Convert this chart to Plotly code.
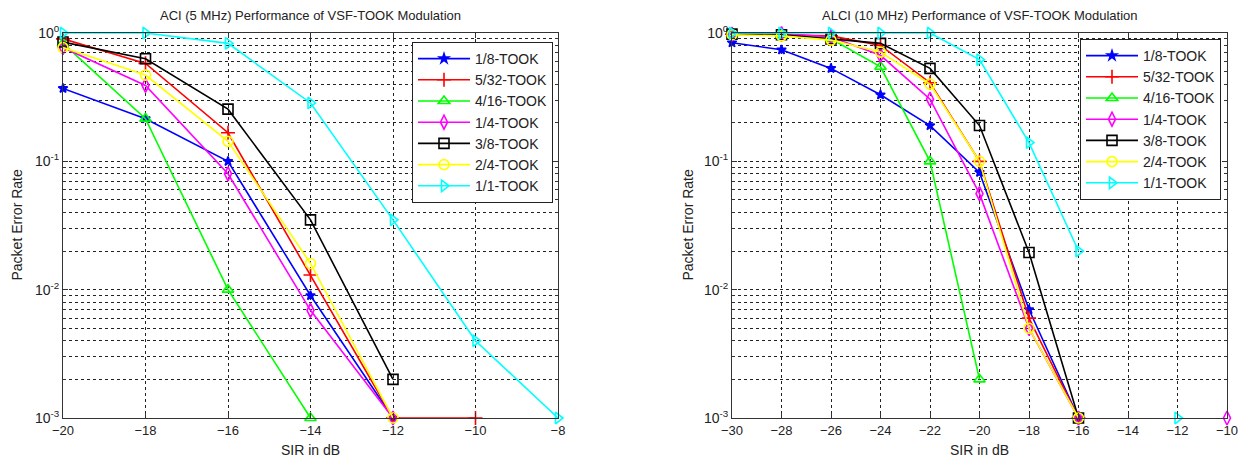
import plotly.graph_objects as go

# ---------------- data ----------------
series_names = ["1/8-TOOK", "5/32-TOOK", "4/16-TOOK", "1/4-TOOK", "3/8-TOOK", "2/4-TOOK", "1/1-TOOK"]
colors = ["#0000FF", "#FF0000", "#00FF00", "#FF00FF", "#000000", "#FFFF00", "#00FFFF"]
symbols = ["star", "cross-thin-open", "triangle-up-open", "diamond-tall-open", "square-open", "circle-open", "triangle-right-open"]
marker_sizes = [7, 10, 10, 10, 10, 10, 10]

# Left: ACI (5 MHz)
sir_aci = [-20, -18, -16, -14, -12, -10, -8]
aci_1_8 = [0.37, 0.215, 0.1, 0.009, 0.001, None, None]
aci_5_32 = [0.9, 0.58, 0.167, 0.013, 0.001, 0.001, None]
aci_4_16 = [0.83, 0.215, 0.01, 0.001, None, None, None]
aci_1_4 = [0.77, 0.39, 0.08, 0.0069, 0.001, None, None]
aci_3_8 = [0.85, 0.63, 0.255, 0.035, 0.002, None, None]
aci_2_4 = [0.77, 0.47, 0.143, 0.016, 0.001, None, None]
aci_1_1 = [1.0, 1.0, 0.83, 0.285, 0.035, 0.004, 0.001]

# Right: ALCI (10 MHz)
sir_alci = [-30, -28, -26, -24, -22, -20, -18, -16, -14, -12, -10]
alci_1_8 = [0.84, 0.74, 0.53, 0.33, 0.19, 0.082, 0.007, 0.001, None, None, None]
alci_5_32 = [0.98, 0.97, 0.95, 0.8, 0.41, 0.1, 0.006, 0.001, None, None, None]
alci_4_16 = [0.98, 0.97, 0.9, 0.545, 0.1, 0.002, None, None, None, None, None]
alci_1_4 = [0.98, 0.99, 0.93, 0.67, 0.305, 0.056, 0.005, 0.001, None, None, 0.001]
alci_3_8 = [0.98, 0.97, 0.9, 0.83, 0.53, 0.19, 0.0195, 0.001, None, None, None]
alci_2_4 = [0.97, 0.95, 0.88, 0.71, 0.4, 0.1, 0.005, 0.001, None, None, None]
alci_1_1 = [1.0, 1.0, 1.0, 1.0, 1.0, 0.62, 0.14, 0.02, None, 0.001, None]

y_major = [1, 0.1, 0.01, 0.001]
y_major_text = ["10<sup>0</sup>", "10<sup>-1</sup>", "10<sup>-2</sup>", "10<sup>-3</sup>"]
y_minor = [m * 10 ** e for e in (-3, -2, -1) for m in range(2, 10)]

titles = ["ACI (5 MHz) Performance of VSF-TOOK Modulation",
          "ALCI (10 MHz) Performance of VSF-TOOK Modulation"]
x_label = "SIR in dB"
y_label = "Packet Error Rate"

FONT = "Liberation Sans, Arial, sans-serif"
W, H = 1239, 460

fig = go.Figure()

aci_sets = [aci_1_8, aci_5_32, aci_4_16, aci_1_4, aci_3_8, aci_2_4, aci_1_1]
alci_sets = [alci_1_8, alci_5_32, alci_4_16, alci_1_4, alci_3_8, alci_2_4, alci_1_1]

for (xs, sets, xa, ya, lg) in ((sir_aci, aci_sets, "x", "y", "legend"),
                               (sir_alci, alci_sets, "x2", "y2", "legend2")):
    for name, col, sym, ms, ys in zip(series_names, colors, symbols, marker_sizes, sets):
        fig.add_trace(go.Scatter(
            x=xs, y=ys, name=name, mode="lines+markers",
            line=dict(color=col, width=1.6),
            marker=dict(symbol=sym, size=ms, color=col,
                        line=dict(color=col, width=1.6)),
            xaxis=xa, yaxis=ya, legend=lg, cliponaxis=False, connectgaps=False))

y0, y1 = 1 - 418 / H, 1 - 33 / H
dom_left = [63 / W, 558 / W]
dom_right = [732 / W, 1227 / W]

common_x = dict(
    showgrid=True, gridcolor="#222", griddash="3px,3px", gridwidth=1,
    showline=True, linecolor="#333", linewidth=1, mirror="ticks",
    ticks="inside", ticklen=5, tickcolor="#333", dtick=2, tick0=0,
    tickfont=dict(family=FONT, size=13, color="#222"), zeroline=False,
    automargin=False, fixedrange=True,
)
common_y = dict(
    type="log", range=[-3, 0], tickmode="array", tickvals=y_major, ticktext=y_major_text,
    showgrid=True, gridcolor="#222", griddash="3px,3px", gridwidth=1,
    showline=True, linecolor="#333", linewidth=1, mirror="ticks",
    ticks="inside", ticklen=5, tickcolor="#333",
    minor=dict(tickmode="array", tickvals=y_minor, showgrid=True, gridcolor="#222",
               griddash="3px,3px", gridwidth=1, ticks="inside", ticklen=3, tickcolor="#333"),
    tickfont=dict(family=FONT, size=14, color="#222"), zeroline=False,
    automargin=False, fixedrange=True,
)

legend_common = dict(xanchor="left", yanchor="top", bgcolor="white", bordercolor="#222",
                     borderwidth=1, font=dict(family=FONT, size=14, color="#222"),
                     itemwidth=52, tracegroupgap=0)

fig.update_layout(
    width=W, height=H, margin=dict(l=0, r=0, t=0, b=0),
    paper_bgcolor="white", plot_bgcolor="white",
    font=dict(family=FONT, size=13, color="#222"),
    xaxis=dict(domain=dom_left, range=[-20, -8], anchor="y", **common_x),
    yaxis=dict(domain=[y0, y1], anchor="x", **common_y),
    xaxis2=dict(domain=dom_right, range=[-30, -10], anchor="y2", **common_x),
    yaxis2=dict(domain=[y0, y1], anchor="x2", **common_y),
    legend=dict(x=412 / W, y=1 - 42 / H, **legend_common),
    legend2=dict(x=1080 / W, y=1 - 39 / H, **legend_common),
    showlegend=True,
)

annotations = []
for t, dom in zip(titles, (dom_left, dom_right)):
    annotations.append(dict(text=t, x=(dom[0] + dom[1]) / 2, y=1 - 15 / H, xref="paper", yref="paper",
                            showarrow=False, xanchor="center", yanchor="middle",
                            font=dict(family=FONT, size=13, color="#222")))
    annotations.append(dict(text=x_label, x=(dom[0] + dom[1]) / 2, y=1 - 450 / H, xref="paper", yref="paper",
                            showarrow=False, xanchor="center", yanchor="middle",
                            font=dict(family=FONT, size=14, color="#222")))
for xpix in (16, 687):
    annotations.append(dict(text=y_label, x=xpix / W, y=(y0 + y1) / 2, xref="paper", yref="paper",
                            showarrow=False, textangle=-90, xanchor="center", yanchor="middle",
                            font=dict(family=FONT, size=14, color="#222")))
fig.update_layout(annotations=annotations)

fig.write_html("out.html")
